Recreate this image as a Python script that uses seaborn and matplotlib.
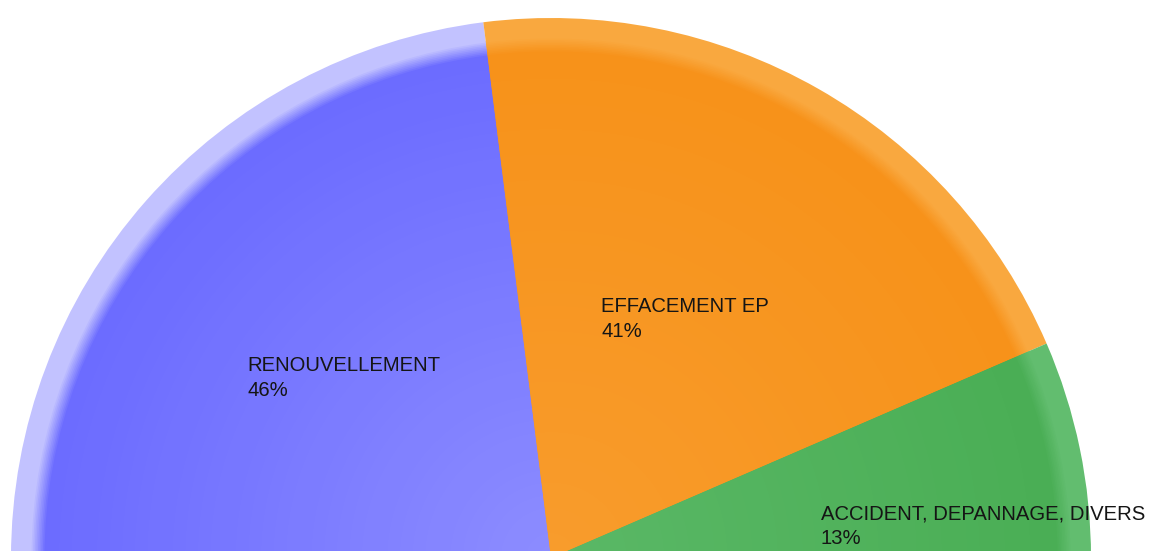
import matplotlib
matplotlib.use("Agg")
import matplotlib.pyplot as plt
import seaborn as sns

# data
labels = ["RENOUVELLEMENT", "EFFACEMENT EP", "ACCIDENT, DEPANNAGE, DIVERS"]
shares = [46, 41, 13]

# colours per slice: rim highlight, colour next to rim, colour near centre
rim_colors = ["#c2c2ff", "#f9a83f", "#62bd6f"]
edge_colors = ["#6c6cff", "#f7921a", "#4aae55"]
core_colors = ["#8c8cff", "#f89c2c", "#5ab866"]

# label anchor (pixels, left edge / first baseline)
label_pos = [(247, 371), (601, 312), (821, 519)]

sns.set_theme(style="white")
plt.rcParams["font.family"] = ["Liberation Sans", "DejaVu Sans"]

W, H = 1161, 551
fig = plt.figure(figsize=(W / 100, H / 100), dpi=100)
ax = fig.add_axes([0, 0, 1, 1])

cx, cy, R = 551, H - 558, 540
# half pie: pad with an invisible slice worth the same total
values = shares + [sum(shares)]


def draw_layer(radius, cols):
    ax.pie(values, radius=radius, center=(cx, cy), startangle=180,
           counterclock=False, colors=list(cols) + ["none"],
           wedgeprops=dict(linewidth=0, antialiased=True))


# outer rim highlight
draw_layer(R, rim_colors)

# soft blend between rim and body
nb = 10
blend = [sns.blend_palette([rc, e], nb) for rc, e in zip(rim_colors, edge_colors)]
for i in range(nb):
    r = R * (0.965 - 0.03 * i / nb)
    draw_layer(r, [b[i] for b in blend])

# body: gradient from rim-side colour to centre colour
n = 40
body_r = R * 0.935
ramps = [sns.blend_palette([e, c], n) for e, c in zip(edge_colors, core_colors)]
for i in range(n):
    draw_layer(body_r * (1 - i / n), [p[i] for p in ramps])

for (x, y), name, v in zip(label_pos, labels, shares):
    ax.text(x, H - y, name, fontsize=14.6, color="#151515", ha="left", va="baseline")
    ax.text(x, H - y - 25, f"{v}%", fontsize=14.6, color="#151515", ha="left", va="baseline")

ax.set_xlim(0, W)
ax.set_ylim(0, H)
ax.set_aspect("auto")
ax.set_axis_off()
fig.savefig("out.png", dpi=100, facecolor="white")
